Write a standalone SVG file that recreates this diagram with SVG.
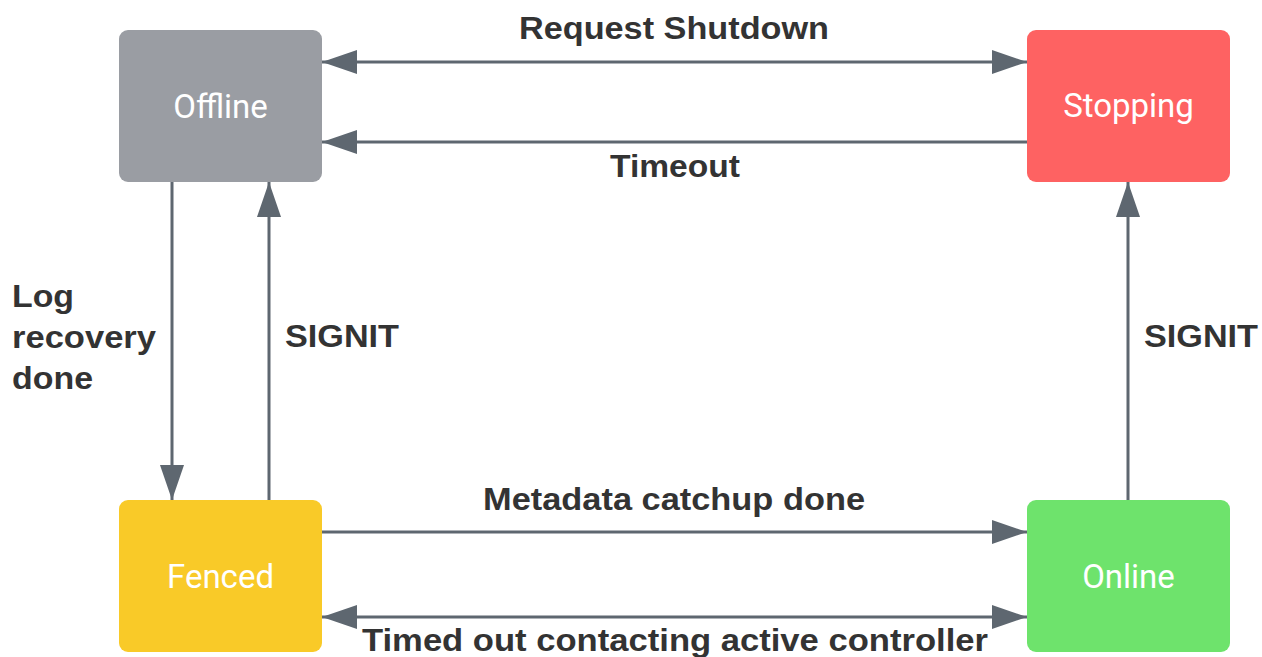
<svg xmlns="http://www.w3.org/2000/svg" width="1262" height="657" viewBox="0 0 1262 657">
  <style>
    .box { stroke: none; }
    .name { font-family: Roboto, "Noto Sans", sans-serif; font-weight: 400; font-size: 33px; fill: #ffffff; text-anchor: middle; }
    .lbl { font-family: "Liberation Sans", Arial, sans-serif; font-weight: bold; font-size: 31px; fill: #333333; }
    .mid { text-anchor: middle; }
    .conn { stroke: #5e6770; stroke-width: 3; fill: none; }
  </style>
  <defs>
    <marker id="arrowEnd" markerUnits="userSpaceOnUse" markerWidth="36" markerHeight="24" refX="35" refY="12" orient="auto">
      <path d="M0,0 L35,12 L0,24 Z" fill="#5e6770"/>
    </marker>
    <marker id="arrowStart" markerUnits="userSpaceOnUse" markerWidth="36" markerHeight="24" refX="0" refY="12" orient="auto">
      <path d="M35,0 L0,12 L35,24 Z" fill="#5e6770"/>
    </marker>
  </defs>
  <rect width="1262" height="657" fill="#ffffff"/>

  <g id="connectors">
    <line class="conn" x1="322" y1="62" x2="1027" y2="62" marker-start="url(#arrowStart)" marker-end="url(#arrowEnd)"/>
    <line class="conn" x1="1027" y1="142" x2="322" y2="142" marker-end="url(#arrowEnd)"/>
    <line class="conn" x1="172" y1="182" x2="172" y2="500" marker-end="url(#arrowEnd)"/>
    <line class="conn" x1="269" y1="500" x2="269" y2="182" marker-end="url(#arrowEnd)"/>
    <line class="conn" x1="322" y1="532" x2="1027" y2="532" marker-end="url(#arrowEnd)"/>
    <line class="conn" x1="322" y1="617" x2="1027" y2="617" marker-start="url(#arrowStart)" marker-end="url(#arrowEnd)"/>
    <line class="conn" x1="1128" y1="500" x2="1128" y2="182" marker-end="url(#arrowEnd)"/>

    <text class="lbl mid" x="674" y="39" textLength="310" lengthAdjust="spacingAndGlyphs">Request Shutdown</text>
    <text class="lbl mid" x="675" y="177" textLength="130" lengthAdjust="spacingAndGlyphs">Timeout</text>
    <text class="lbl" x="12" y="307" textLength="62" lengthAdjust="spacingAndGlyphs">Log</text>
    <text class="lbl" x="12" y="348" textLength="144" lengthAdjust="spacingAndGlyphs">recovery</text>
    <text class="lbl" x="12" y="389" textLength="81" lengthAdjust="spacingAndGlyphs">done</text>
    <text class="lbl" x="285" y="347" textLength="114" lengthAdjust="spacingAndGlyphs">SIGNIT</text>
    <text class="lbl" x="1144" y="347" textLength="114" lengthAdjust="spacingAndGlyphs">SIGNIT</text>
    <text class="lbl mid" x="674" y="510" textLength="382" lengthAdjust="spacingAndGlyphs">Metadata catchup done</text>
    <text class="lbl mid" x="675" y="651" textLength="626" lengthAdjust="spacingAndGlyphs">Timed out contacting active controller</text>
  </g>

  <g id="offline">
    <rect class="box" x="119" y="30" width="203" height="152" rx="9" fill="#9a9da3"/>
    <text class="name" x="220.5" y="118">Offline</text>
  </g>
  <g id="stopping">
    <rect class="box" x="1027" y="30" width="203" height="152" rx="9" fill="#fe6262"/>
    <text class="name" x="1128.5" y="117">Stopping</text>
  </g>
  <g id="fenced">
    <rect class="box" x="119" y="500" width="203" height="152" rx="9" fill="#f9ca28"/>
    <text class="name" x="220.5" y="588">Fenced</text>
  </g>
  <g id="online">
    <rect class="box" x="1027" y="500" width="203" height="152" rx="9" fill="#6ee36c"/>
    <text class="name" x="1128.5" y="588">Online</text>
  </g>
</svg>
